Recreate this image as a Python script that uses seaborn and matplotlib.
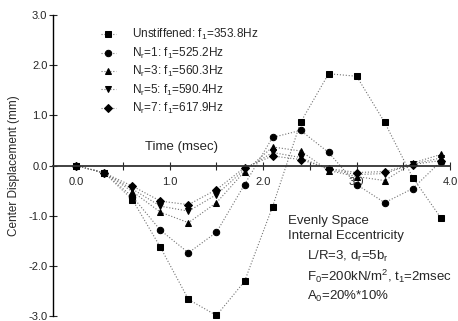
import numpy as np
import pandas as pd
import seaborn as sns
import matplotlib.pyplot as plt
from matplotlib.ticker import MultipleLocator

# Dados (tempo em msec, deslocamento em mm)
tempo = [0.0, 0.3, 0.6, 0.9, 1.2, 1.5, 1.8, 2.1, 2.4, 2.7, 3.0, 3.3, 3.6, 3.9]
sem_reforco = [0.0, -0.15, -0.68, -1.63, -2.67, -2.99, -2.31, -0.82, 0.86, 1.83, 1.78, 0.86, -0.24, -1.04]
nr1 = [0.0, -0.15, -0.62, -1.29, -1.74, -1.33, -0.38, 0.56, 0.70, 0.26, -0.38, -0.74, -0.46, 0.08]
nr3 = [0.0, -0.15, -0.52, -0.93, -1.14, -0.74, -0.12, 0.37, 0.29, -0.10, -0.22, -0.30, 0.05, 0.22]
nr5 = [0.0, -0.15, -0.47, -0.81, -0.91, -0.58, -0.08, 0.26, 0.16, -0.08, -0.18, -0.16, 0.03, 0.15]
nr7 = [0.0, -0.15, -0.41, -0.71, -0.78, -0.48, -0.04, 0.19, 0.12, -0.06, -0.14, -0.12, 0.02, 0.10]

rotulos = [
    r'Unstiffened: f$\mathregular{_1}$=353.8Hz',
    r'N$\mathregular{_r}$=1: f$\mathregular{_1}$=525.2Hz',
    r'N$\mathregular{_r}$=3: f$\mathregular{_1}$=560.3Hz',
    r'N$\mathregular{_r}$=5: f$\mathregular{_1}$=590.4Hz',
    r'N$\mathregular{_r}$=7: f$\mathregular{_1}$=617.9Hz',
]
marcadores = ['s', 'o', '^', 'v', 'D']
series = [sem_reforco, nr1, nr3, nr5, nr7]

df = pd.DataFrame({'Tempo': tempo})
for rot, s in zip(rotulos, series):
    df[rot] = s

sns.set_theme(style="white")
plt.rcParams['font.family'] = ['Liberation Sans', 'DejaVu Sans']
plt.rcParams['mathtext.fontset'] = 'custom'
plt.rcParams['mathtext.rm'] = 'Liberation Sans'
plt.rcParams['mathtext.it'] = 'Liberation Sans:italic'

fig = plt.figure(figsize=(4.58, 3.21), dpi=100)
ax = fig.add_axes([0.1157, 0.0156, 0.867, 0.9375])

tam = [4.2, 4.6, 4.8, 4.8, 4.4]
for rot, m, ms in zip(rotulos, marcadores, tam):
    sns.lineplot(x='Tempo', y=rot, data=df, ax=ax, marker=m, markersize=ms,
                 color='black', markeredgecolor='black', linestyle=':',
                 linewidth=0.8, label=rot, clip_on=False)
for ln in ax.lines:
    ln.set_color('0.45')
    ln.set_markerfacecolor('black')
    ln.set_markeredgecolor('black')

ax.set_xlim(-0.25, 4.0)
ax.set_ylim(-3.0, 3.0)

# eixos no estilo do original
ax.spines['right'].set_visible(False)
ax.spines['top'].set_visible(False)
ax.spines['bottom'].set_position(('data', 0))
ax.spines['bottom'].set_linewidth(1.3)
ax.spines['bottom'].set_color('0.2')
ax.spines['left'].set_linewidth(1.0)
ax.spines['left'].set_color('black')

ax.xaxis.set_minor_locator(MultipleLocator(0.5))
ax.set_xticks([0, 1, 2, 3, 4])
ax.set_xticklabels(['0.0', '1.0', '2.0', '3.0', '4.0'])
ax.set_yticks([-3, -2, -1, 0, 1, 2, 3])
ax.set_yticklabels(['-3.0', '-2.0', '-1.0', '0.0', '1.0', '2.0', '3.0'])
ax.tick_params(axis='x', which='both', direction='inout', length=6, width=0.8,
               labelsize=8, pad=5, bottom=True)
ax.tick_params(axis='y', which='both', direction='inout', length=6, width=0.8,
               labelsize=8, pad=1, left=True)

ax.set_xlabel('')
ax.set_ylabel('Center Displacement (mm)', fontsize=8.5, labelpad=6)
ax.text(1.13, 0.36, 'Time (msec)', fontsize=9.5, ha='center', va='center')

leg = ax.legend(loc='upper left', bbox_to_anchor=(0.11, 0.975), frameon=False,
                fontsize=8.5, handlelength=1.2, handletextpad=1.4,
                labelspacing=0.28, borderaxespad=0)

ax.text(2.26, -1.26, 'Evenly Space\nInternal Eccentricity', fontsize=9.5,
        ha='left', va='center', linespacing=1.3)
ax.text(2.47, -2.21,
        r'L/R=3, d$\mathregular{_r}$=5b$\mathregular{_r}$' + '\n'
        r'F$\mathregular{_0}$=200kN/m$\mathregular{^2}$, t$\mathregular{_1}$=2msec' + '\n'
        r'A$\mathregular{_0}$=20%*10%',
        fontsize=9.5, ha='left', va='center', linespacing=1.3)

plt.savefig('out.png', dpi=100)
